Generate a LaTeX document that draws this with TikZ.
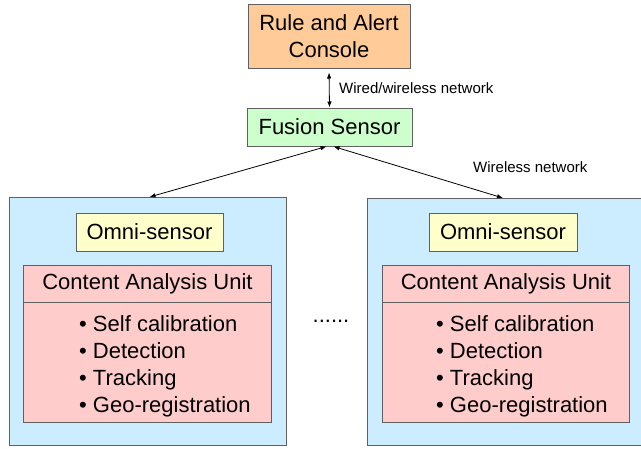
\documentclass[tikz,border=0pt]{standalone}
\usepackage{fontspec}
\setmainfont{Liberation Sans}
\usetikzlibrary{arrows.meta,calc}
\definecolor{rulec}{HTML}{FFCC99}
\definecolor{fusc}{HTML}{CCFFCC}
\definecolor{bluec}{HTML}{CCECFF}
\definecolor{yelc}{HTML}{FFFFCC}
\definecolor{pinkc}{HTML}{FFCCCC}
\definecolor{edgec}{HTML}{606060}
\tikzset{
  box/.style={draw=edgec, line width=1pt, inner sep=0pt, font=\fontsize{22}{27}\selectfont, align=center},
  lbl/.style={font=\fontsize{15}{18}\selectfont, inner sep=0pt, anchor=west},
  conn/.style={line width=0.8pt, {Latex[length=6pt,width=4.5pt]}-{Latex[length=6pt,width=4.5pt]}},
}
\begin{document}
\begin{tikzpicture}[x=1pt,y=-1pt]
\useasboundingbox (0,0) rectangle (641,448);
% top
\node[box, fill=rulec, minimum width=162pt, minimum height=64pt] (rule) at (329,36) {Rule and Alert\\Console};
\node[box, fill=fusc, minimum width=165pt, minimum height=38pt] (fus) at (329.5,127) {Fusion Sensor};
% big boxes
\node[box, fill=bluec, minimum width=277pt, minimum height=248pt, anchor=north west] (lbox) at (9,197) {};
\node[box, fill=bluec, minimum width=290pt, minimum height=247pt, anchor=north west] (rbox) at (367,198) {};
% omni
\node[box, fill=yelc, minimum width=147pt, minimum height=38pt] (lomni) at (149.5,232) {Omni-sensor};
\node[box, fill=yelc, minimum width=148pt, minimum height=38pt] (romni) at (503,232) {Omni-sensor};
% CAU left
\node[box, fill=pinkc, minimum width=248pt, minimum height=37pt, anchor=north west] (lcauh) at (23,265) {Content Analysis Unit};
\node[box, fill=pinkc, minimum width=248pt, minimum height=120pt, anchor=north west] (lcaub) at (23,302) {};
\node[font=\fontsize{22}{27}\selectfont, align=left, inner sep=0pt, anchor=west] (llist) at (79,366)
  {• Self calibration\\• Detection\\• Tracking\\• Geo-registration};
% CAU right
\node[box, fill=pinkc, minimum width=247pt, minimum height=37pt, anchor=north west] (rcauh) at (382,265) {Content Analysis Unit};
\node[box, fill=pinkc, minimum width=247pt, minimum height=120pt, anchor=north west] (rcaub) at (382,302) {};
\node[font=\fontsize{22}{27}\selectfont, align=left, inner sep=0pt, anchor=west] (rlist) at (436,366)
  {• Self calibration\\• Detection\\• Tracking\\• Geo-registration};
% dots
\node[font=\fontsize{22}{27}\selectfont, inner sep=0pt] (dots) at (331,321) {......};
% connectors
\draw[conn, shorten <=4pt] (rule.south) -- (fus.north);
\draw[conn] (lomni.north |- lbox.north) -- ([xshift=-3pt]fus.south);
\draw[conn] ([xshift=4pt]fus.south) -- (romni.north |- rbox.north);
% labels
\node[lbl] (l1) at (339,88) {Wired/wireless network};
\node[lbl] (l2) at (473,167) {Wireless network};
\end{tikzpicture}
\end{document}
